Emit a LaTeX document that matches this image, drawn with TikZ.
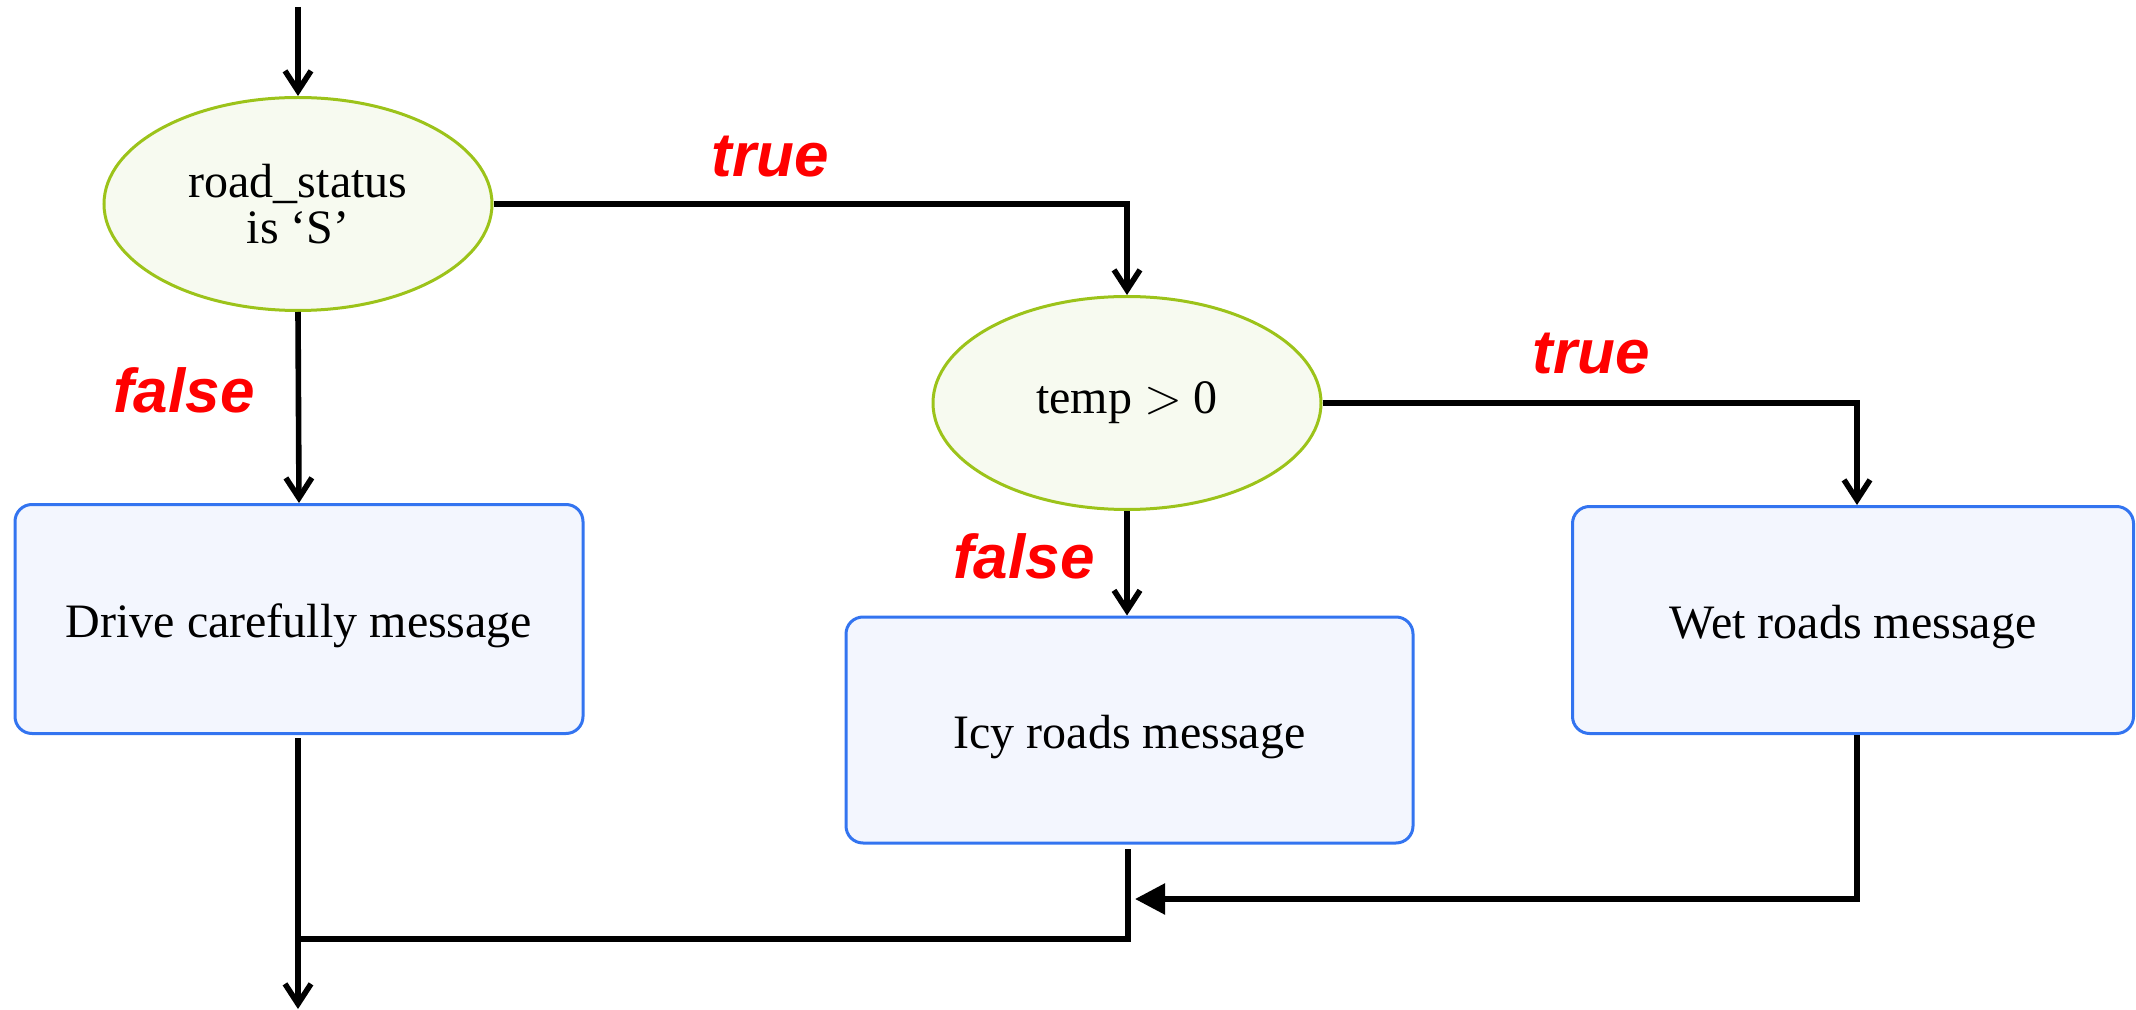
\documentclass[tikz,border=0pt]{standalone}
\usepackage{fontspec}
\setmainfont{Liberation Serif}
\newfontfamily\lblfont{Liberation Sans}
\usetikzlibrary{shapes.geometric,arrows.meta,calc}
\definecolor{ellfill}{HTML}{F7FAF0}
\definecolor{elldraw}{HTML}{9CC31A}
\definecolor{boxfill}{HTML}{F3F6FE}
\definecolor{boxdraw}{HTML}{3374F0}
\definecolor{lblred}{HTML}{FF0000}
\tikzset{
  cond/.style={ellipse, draw=elldraw, fill=ellfill, line width=1.5pt, minimum width=194pt, minimum height=106.5pt, inner sep=0pt, align=center, font=\fontsize{24}{23}\selectfont},
  msgbox/.style={rectangle, rounded corners=8.5pt, draw=boxdraw, fill=boxfill, line width=1.5pt, inner sep=0pt, align=center, text height=22pt, text depth=4pt, font=\fontsize{24}{28}\selectfont},
  conn/.style={line width=2.8pt},
  arr/.style={conn, -{Straight Barb[length=10pt,width=13pt]}},
  farr/.style={conn, -{Triangle[length=15pt,width=15pt]}},
  lbl/.style={text=lblred, font=\lblfont\bfseries\itshape\fontsize{31}{31}\selectfont, inner sep=0pt}
}
\begin{document}
\begin{tikzpicture}[x=0.5pt,y=-0.5pt]
\useasboundingbox (0,0) rectangle (2136,1010);
\node[cond] (e1) at (298,204) {road\_status\\is ‘S’};
\node[cond] (e2) at (1127,403) {temp $>$ 0};
\node[msgbox, minimum width=284pt, minimum height=114.5pt] (b1) at (299,619) {Drive carefully message};
\node[msgbox, minimum width=283.5pt, minimum height=113pt] (b2) at (1129.5,730) {Icy roads message};
\node[msgbox, minimum width=280.5pt, minimum height=113.5pt] (b3) at (1853,620) {Wet roads message};
\node[lbl] (t1) at (770,157) {true};
\node[lbl] (t2) at (1591,354) {true};
\node[lbl] (f1) at (184,390) {false};
\node[lbl] (f2) at (1024,556) {false};
\coordinate (start) at (298,7);
\coordinate (j1) at (1135,899);
\coordinate (j2) at (1128,939);
\coordinate (j3) at (298,939);
\coordinate (endp) at (298,1009);
\draw[arr] (start) -- (e1.north);
\draw[arr] (e1.east) -| (e2.north);
\draw[arr] (e2.east) -| ($(b3.north)+(2pt,0)$);
\draw[arr] (e1.south) -- (b1.north);
\draw[arr] (e2.south) -- (e2.south |- b2.north);
\draw[farr] ($(b3.south)+(2pt,0)$) |- (j1);
\draw[conn] (j2 |- 0,849) -- (j2) -- (j3);
\draw[arr] (298,738) -- (endp);
\end{tikzpicture}
\end{document}
